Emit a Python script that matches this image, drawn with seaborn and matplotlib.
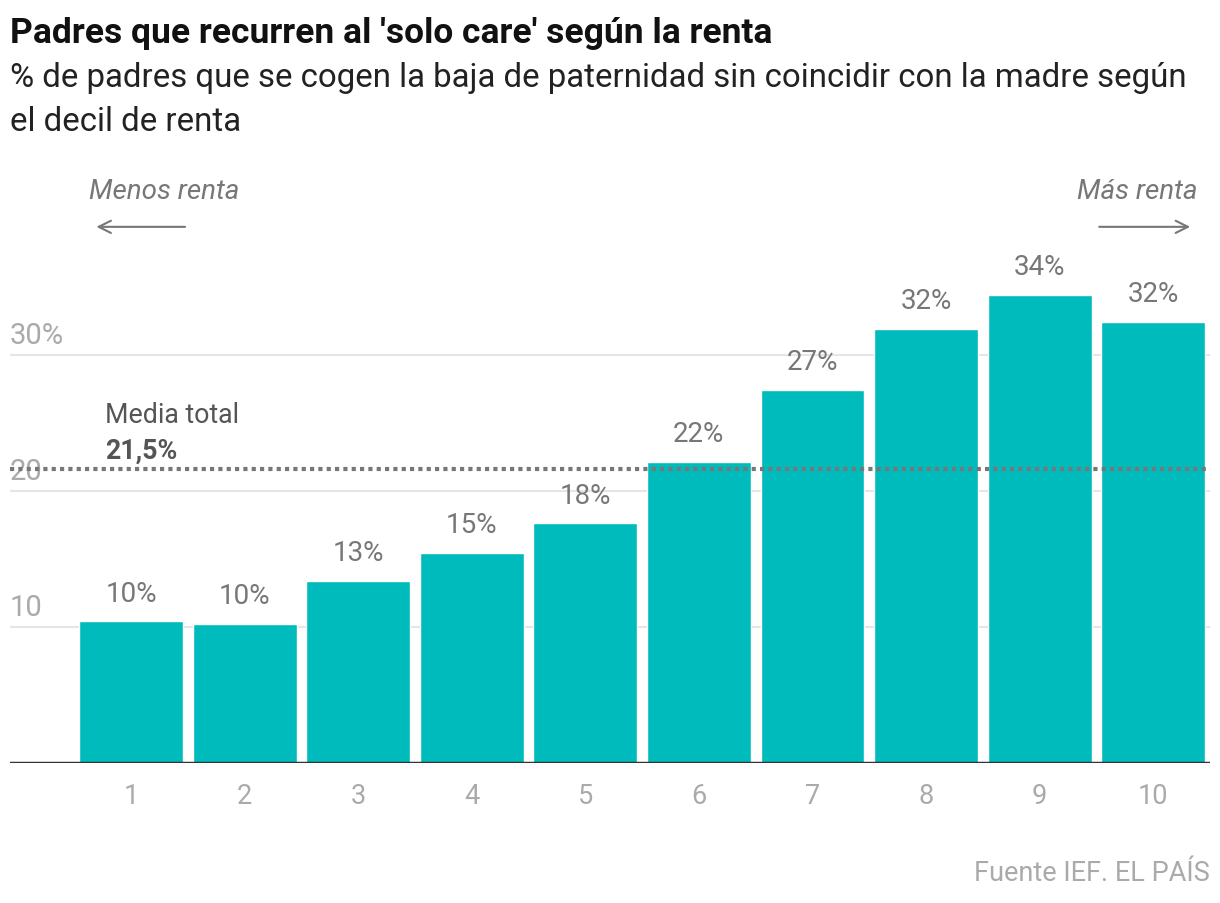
import matplotlib
matplotlib.use("Agg")
import matplotlib.pyplot as plt
import seaborn as sns
import pandas as pd

# data
deciles = ['1', '2', '3', '4', '5', '6', '7', '8', '9', '10']
values = [10.4, 10.2, 13.4, 15.4, 17.6, 22.1, 27.4, 31.9, 34.4, 32.4]
labels = ['10%', '10%', '13%', '15%', '18%', '22%', '27%', '32%', '34%', '32%']
media = 21.6
yticks = [10, 20, 30]
ytick_labels = ['10', '20', '30%']

df = pd.DataFrame({'decil': deciles, 'valor': values})

sns.set_style("white")
plt.rcParams['font.family'] = ['Roboto', 'DejaVu Sans']

fig = plt.figure(figsize=(12.2, 9.04), dpi=100)
ax = fig.add_axes([10 / 1220, 1 - 764 / 904, 1200 / 1220, (764 - 170) / 904])

sns.barplot(data=df, x='decil', y='valor', color='#00bbbb', saturation=1,
            width=0.915, ax=ax, zorder=3)

ax.set_xlim(-1.066, 9.5)
ax.set_ylim(0, 43.65)

for y in yticks:
    ax.axhline(y, color='#e6e6e6', lw=1.5, zorder=1)
for y, t in zip(yticks, ytick_labels):
    ax.text(-1.066, y + 0.45, t, color='#aaaaaa', fontsize=21, ha='left', va='bottom', zorder=2)

ax.axhline(0, color='#333333', lw=2.5, zorder=5)
ax.axhline(media, color='#777777', lw=3, ls=(0, (1, 1)), zorder=4)
ax.text(-0.23, media + 4.0, 'Media total', color='#555555', fontsize=19.3, ha='left', va='center')
ax.text(-0.23, media + 1.4, '21,5%', color='#555555', fontsize=19.3, fontweight='bold', ha='left', va='center')

for i, (v, lab) in enumerate(zip(values, labels)):
    ax.text(i, v + 1.1, lab, color='#777777', fontsize=20, ha='center', va='bottom')

# direction arrows
ax.text(-0.37, 42.0, 'Menos renta', color='#777777', fontsize=20, style='italic', ha='left', va='center')
ax.annotate('', xy=(-0.33, 39.4), xytext=(0.5, 39.4),
            arrowprops=dict(arrowstyle='->', color='#777777', lw=1.5, mutation_scale=22))
ax.text(9.39, 42.0, 'Más renta', color='#777777', fontsize=20, style='italic', ha='right', va='center')
ax.annotate('', xy=(9.35, 39.4), xytext=(8.5, 39.4),
            arrowprops=dict(arrowstyle='->', color='#777777', lw=1.5, mutation_scale=22))

ax.set_xlabel('')
ax.set_ylabel('')
ax.set_yticks([])
ax.tick_params(axis='x', length=0, labelsize=19.5, labelcolor='#aaaaaa', pad=14)
sns.despine(ax=ax, left=True, bottom=True)

fig.text(10 / 1220, 1 - 33 / 904, "Padres que recurren al 'solo care' según la renta",
         fontsize=25.5, fontweight='bold', color='#111111', va='center')
fig.text(10 / 1220, 1 - 78 / 904, '% de padres que se cogen la baja de paternidad sin coincidir con la madre según',
         fontsize=23.8, color='#222222', va='center')
fig.text(10 / 1220, 1 - 122 / 904, 'el decil de renta', fontsize=23.8, color='#222222', va='center')
fig.text(1210 / 1220, 1 - 874 / 904, 'Fuente IEF. EL PAÍS', fontsize=19.5, color='#aaaaaa',
         ha='right', va='center')

fig.savefig('out.png', dpi=100)
